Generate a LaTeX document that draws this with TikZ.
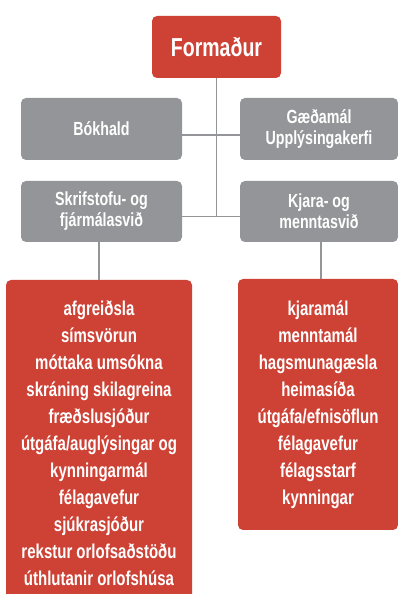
\documentclass[tikz,border=0pt]{standalone}
\usepackage{fontspec}
\setmainfont[FakeStretch=0.75]{Liberation Sans}
\usetikzlibrary{positioning}
\definecolor{boxred}{RGB}{206,66,54}
\definecolor{boxgray}{RGB}{147,149,152}

\begin{document}
\begin{tikzpicture}[x=1pt,y=1pt,
    box/.style = {rounded corners=5pt, text=white, align=center, inner sep=0pt},
    redbox/.style = {box, fill=boxred, font=\bfseries\fontsize{20}{27}\selectfont},
    graybox/.style = {box, fill=boxgray, font=\bfseries\fontsize{19}{21}\selectfont,
        minimum width=161pt, minimum height=62pt},
    link/.style = {draw=boxgray, line width=1.6pt}]
	\useasboundingbox (0,0) rectangle (398,594);
	%Top of the chart
	\node[redbox, minimum width=129pt, minimum height=62pt, font=\bfseries\fontsize{26}{28}\selectfont] (chair) at (216.5,547) {Formaður};
	%Gray boxes
	\node[graybox] (bok) at (101.5,465) {Bókhald};
	\node[graybox, minimum width=158pt] (gaed) at (319,465) {Gæðamál\\Upplýsingakerfi};
	\node[graybox, minimum height=61pt] (skrif) at (101.5,382.5) {Skrifstofu- og\\fjármálasvið};
	\node[graybox, minimum width=158pt, minimum height=61pt] (kjara) at (319,382.5) {Kjara- og\\menntasvið};
	%Task lists
	\node[redbox, minimum width=186pt, minimum height=326pt] (skrifjob) at (99,151) {afgreiðsla\\símsvörun\\móttaka umsókna\\skráning skilagreina\\fræðslusjóður\\útgáfa/auglýsingar og\\kynningarmál\\félagavefur\\sjúkrasjóður\\rekstur orlofsaðstöðu\\úthlutanir orlofshúsa};
	\node[redbox, minimum width=160pt, minimum height=251pt] (kjarajob) at (318,189.5) {kjaramál\\menntamál\\hagsmunagæsla\\heimasíða\\útgáfa/efnisöflun\\félagavefur\\félagsstarf\\kynningar};
	
	%Connecting lines
	\path[link] (chair.south) -- ([yshift=-5pt]chair.south |- skrif.east); %spine
	\path[link] ([yshift=-6pt]bok.east) -- ([yshift=-6pt]gaed.west);
	\path[link] ([yshift=-5pt]skrif.east) -- ([yshift=-5pt]kjara.west);
	\path[link] (skrif.south -| skrifjob.north) -- (skrifjob.north);
	\path[link] ([xshift=2pt]kjara.south) -- ([xshift=2pt]kjara.south |- kjarajob.north);
\end{tikzpicture}
\end{document}
